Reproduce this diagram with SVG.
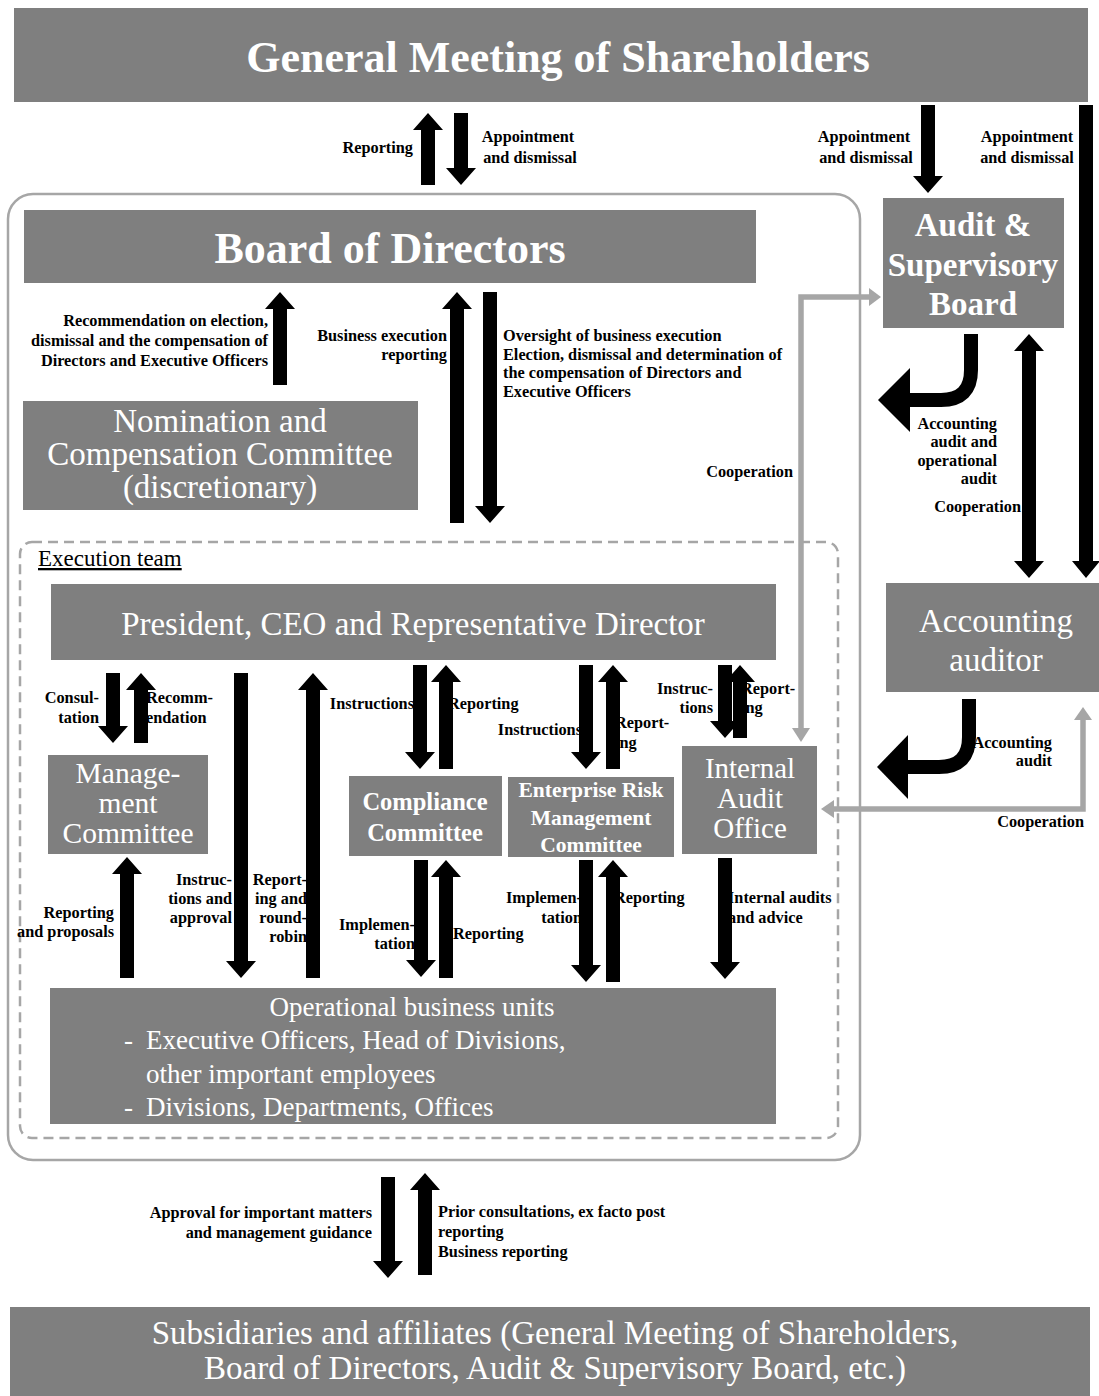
<svg xmlns="http://www.w3.org/2000/svg" width="1099" height="1396" viewBox="0 0 1099 1396">
<style>
.bx{fill:#7f7f7f}
.wt{fill:#fff;font-family:"Liberation Serif","Times New Roman",serif}
.wb{font-weight:bold}
.lb{font-family:"Liberation Serif","Times New Roman",serif;font-weight:bold;font-size:16.3px;fill:#000}
.r{text-anchor:end}
.m{text-anchor:middle}
.arr{fill:#000}
.gl{fill:none;stroke:#a6a6a6;stroke-width:5.5}
.gh{fill:#a6a6a6}
.cv{fill:none;stroke:#000;stroke-width:14}
</style>
<rect width="1099" height="1396" fill="#fff"/>
<rect x="8" y="194" width="852" height="966" rx="25" fill="none" stroke="#a6a6a6" stroke-width="2.5"/>
<rect x="20" y="542" width="818" height="596" rx="12" fill="none" stroke="#a6a6a6" stroke-width="2.5" stroke-dasharray="10 6"/>

<g id="gms"><rect class="bx" x="14" y="8" width="1074" height="94"/><text class="wt wb m" x="558" y="72" font-size="44">General Meeting of Shareholders</text></g>
<g id="board"><rect class="bx" x="24" y="210" width="732" height="73"/><text class="wt wb m" x="390" y="263" font-size="44">Board of Directors</text></g>
<g id="asb"><rect class="bx" x="883" y="198" width="181" height="130"/><text class="wt wb m" x="973" y="236" font-size="33">Audit &amp;</text><text class="wt wb m" x="973" y="276" font-size="33">Supervisory</text><text class="wt wb m" x="973" y="315" font-size="33">Board</text></g>
<g id="nom"><rect class="bx" x="23" y="401" width="395" height="109"/><text class="wt m" x="220" y="432" font-size="33">Nomination and</text><text class="wt m" x="220" y="465" font-size="33">Compensation Committee</text><text class="wt m" x="220" y="498" font-size="33">(discretionary)</text></g>
<g id="exec-label"><text x="38" y="566" font-family="Liberation Serif, serif" font-size="23" text-decoration="underline" fill="#000">Execution team</text></g>
<g id="president"><rect class="bx" x="51" y="584" width="725" height="76"/><text class="wt m" x="413" y="635" font-size="33">President, CEO and Representative Director</text></g>
<g id="acc"><rect class="bx" x="886" y="583" width="213" height="109"/><text class="wt m" x="996" y="632" font-size="33">Accounting</text><text class="wt m" x="996" y="671" font-size="33">auditor</text></g>
<g id="mgmt"><rect class="bx" x="48" y="755" width="160" height="99"/><text class="wt m" x="128" y="783" font-size="29.5">Manage-</text><text class="wt m" x="128" y="813" font-size="29.5">ment</text><text class="wt m" x="128" y="843" font-size="29.5">Committee</text></g>
<g id="comp"><rect class="bx" x="349" y="776" width="153" height="80"/><text class="wt wb m" x="425" y="810" font-size="24.5">Compliance</text><text class="wt wb m" x="425" y="841" font-size="24.5">Committee</text></g>
<g id="erm"><rect class="bx" x="508" y="777" width="166" height="80"/><text class="wt wb m" x="591" y="797" font-size="21.5">Enterprise Risk</text><text class="wt wb m" x="591" y="825" font-size="21.5">Management</text><text class="wt wb m" x="591" y="852" font-size="21.5">Committee</text></g>
<g id="iao"><rect class="bx" x="682" y="746" width="135" height="108"/><text class="wt m" x="750" y="778" font-size="29">Internal</text><text class="wt m" x="750" y="808" font-size="29">Audit</text><text class="wt m" x="750" y="838" font-size="29">Office</text></g>
<g id="ops"><rect class="bx" x="50" y="988" width="726" height="136"/><text class="wt m" x="412" y="1016" font-size="27">Operational business units</text><text class="wt" x="124" y="1049" font-size="27">-</text><text class="wt" x="146" y="1049" font-size="27">Executive Officers, Head of Divisions,</text><text class="wt" x="146" y="1083" font-size="27">other important employees</text><text class="wt" x="124" y="1116" font-size="27">-</text><text class="wt" x="146" y="1116" font-size="27">Divisions, Departments, Offices</text></g>
<g id="subs"><rect class="bx" x="10" y="1307" width="1080" height="89"/><text class="wt m" x="555" y="1344" font-size="33">Subsidiaries and affiliates (General Meeting of Shareholders,</text><text class="wt m" x="555" y="1379" font-size="33">Board of Directors, Audit &amp; Supervisory Board, etc.)</text></g>

<g id="connectors">
<path class="arr" d="M421,185 V130 H413 L428,113 L443,130 H435 V185 Z"/>
<path class="arr" d="M454,113 H468 V168 H476 L461,185 L446,168 H454 Z"/>
<path class="arr" d="M921,105 H935 V176 H943 L928,193 L913,176 H921 Z"/>
<path class="arr" d="M1079,105 H1093 V561 H1100 L1086,578 L1072,561 H1079 Z"/>
<path class="arr" d="M273,385 V309 H265 L280,292 L295,309 H287 V385 Z"/>
<path class="arr" d="M450,523 V309 H442 L457,292 L472,309 H464 V523 Z"/>
<path class="arr" d="M483,292 H497 V506 H505 L490,523 L475,506 H483 Z"/>
<path class="arr" d="M1029,334 L1044,351 H1036 V561 H1044 L1029,578 L1014,561 H1022 V351 H1014 Z"/>
<path class="arr" d="M106,673 H120 V726 H128 L113,743 L98,726 H106 Z"/>
<path class="arr" d="M134,743 V690 H126 L141,673 L156,690 H148 V743 Z"/>
<path class="arr" d="M234,673 H248 V961 H256 L241,978 L226,961 H234 Z"/>
<path class="arr" d="M306,978 V690 H298 L313,673 L328,690 H320 V978 Z"/>
<path class="arr" d="M413,665 H427 V752 H435 L420,769 L405,752 H413 Z"/>
<path class="arr" d="M439,769 V682 H431 L446,665 L461,682 H453 V769 Z"/>
<path class="arr" d="M579,665 H593 V752 H601 L586,769 L571,752 H579 Z"/>
<path class="arr" d="M606,769 V682 H598 L613,665 L628,682 H620 V769 Z"/>
<path class="arr" d="M718,665 H732 V721 H740 L725,738 L710,721 H718 Z"/>
<path class="arr" d="M733,738 V682 H725 L740,665 L755,682 H747 V738 Z"/>
<path class="arr" d="M120,978 V874 H112 L127,857 L142,874 H134 V978 Z"/>
<path class="arr" d="M414,860 H428 V960 H436 L421,977 L406,960 H414 Z"/>
<path class="arr" d="M439,978 V877 H431 L446,860 L461,877 H453 V978 Z"/>
<path class="arr" d="M579,860 H593 V965 H601 L586,982 L571,965 H579 Z"/>
<path class="arr" d="M606,982 V877 H598 L613,860 L628,877 H620 V982 Z"/>
<path class="arr" d="M718,858 H732 V962 H740 L725,979 L710,962 H718 Z"/>
<path class="arr" d="M381,1177 H395 V1261 H403 L388,1278 L373,1261 H381 Z"/>
<path class="arr" d="M418,1275 V1190 H410 L425,1173 L440,1190 H432 V1275 Z"/>
<path class="cv" d="M971,334 V370 Q971,400 941,400 H905"/>
<polygon class="arr" points="910,368 878,400 910,432"/>
<path class="cv" d="M969,699 V737 Q969,767 939,767 H905"/>
<polygon class="arr" points="908,735 877,767 908,799"/>
<path class="gl" d="M801,728 V297 H870"/>
<polygon class="gh" points="792,728 810,728 801,742"/>
<polygon class="gh" points="869,288 869,306 881,297"/>
<path class="gl" d="M1083,720 V809 H833"/>
<polygon class="gh" points="1074,720 1092,720 1083,707"/>
<polygon class="gh" points="834,800 834,818 821,809"/>
</g>

<g id="labels">
<text class="lb r" x="413" y="153">Reporting</text>
<text class="lb m" x="528" y="142">Appointment</text><text class="lb m" x="530" y="163">and dismissal</text>
<text class="lb m" x="864" y="142">Appointment</text><text class="lb m" x="866" y="163">and dismissal</text>
<text class="lb m" x="1027" y="142">Appointment</text><text class="lb m" x="1027" y="163">and dismissal</text>
<text class="lb r" x="268" y="326" font-size="17.6">Recommendation on election,</text>
<text class="lb r" x="268" y="346" font-size="17.6">dismissal and the compensation of</text>
<text class="lb r" x="268" y="366" font-size="17.6">Directors and Executive Officers</text>
<text class="lb r" x="447" y="341">Business execution</text>
<text class="lb r" x="447" y="360">reporting</text>
<text class="lb" x="503" y="341" font-size="16.7">Oversight of business execution</text>
<text class="lb" x="503" y="359.5" font-size="16.7">Election, dismissal and determination of</text>
<text class="lb" x="503" y="378" font-size="16.7">the compensation of Directors and</text>
<text class="lb" x="503" y="396.5" font-size="16.7">Executive Officers</text>
<text class="lb r" x="793" y="477">Cooperation</text>
<text class="lb r" x="997" y="429">Accounting</text><text class="lb r" x="997" y="447">audit and</text><text class="lb r" x="997" y="466">operational</text><text class="lb r" x="997" y="484">audit</text>
<text class="lb r" x="1021" y="512">Cooperation</text>
<text class="lb r" x="1052" y="748">Accounting</text><text class="lb r" x="1052" y="766">audit</text>
<text class="lb r" x="1084" y="827">Cooperation</text>
<text class="lb r" x="99" y="703">Consul-</text><text class="lb r" x="99" y="723">tation</text>
<text class="lb" x="146" y="703">Recomm-</text><text class="lb" x="146" y="723">endation</text>
<text class="lb r" x="414" y="709">Instructions</text>
<text class="lb" x="448" y="709">Reporting</text>
<text class="lb r" x="582" y="735">Instructions</text>
<text class="lb" x="615" y="728">Report-</text><text class="lb" x="615" y="748">ing</text>
<text class="lb r" x="713" y="694">Instruc-</text><text class="lb r" x="713" y="713">tions</text>
<text class="lb" x="741" y="694">Report-</text><text class="lb" x="741" y="713">ing</text>
<text class="lb r" x="114" y="918">Reporting</text><text class="lb r" x="114" y="937">and proposals</text>
<text class="lb r" x="232" y="885">Instruc-</text><text class="lb r" x="232" y="904">tions and</text><text class="lb r" x="232" y="923">approval</text>
<text class="lb r" x="307" y="885">Report-</text><text class="lb r" x="307" y="904">ing and</text><text class="lb r" x="307" y="923">round-</text><text class="lb r" x="307" y="942">robin</text>
<text class="lb r" x="415" y="930">Implemen-</text><text class="lb r" x="415" y="949">tation</text>
<text class="lb" x="453" y="939">Reporting</text>
<text class="lb r" x="582" y="903">Implemen-</text><text class="lb r" x="582" y="923">tation</text>
<text class="lb" x="614" y="903">Reporting</text>
<text class="lb" x="728" y="903">Internal audits</text><text class="lb" x="728" y="923">and advice</text>
<text class="lb r" x="372" y="1218">Approval for important matters</text><text class="lb r" x="372" y="1238">and management guidance</text>
<text class="lb" x="438" y="1217">Prior consultations, ex facto post</text><text class="lb" x="438" y="1237">reporting</text><text class="lb" x="438" y="1257">Business reporting</text>
</g>
</svg>
